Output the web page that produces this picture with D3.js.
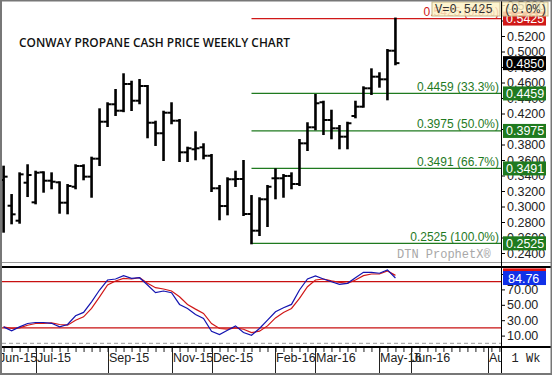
<!DOCTYPE html>
<html>
<head>
<meta charset="utf-8">
<script src="https://cdn.jsdelivr.net/npm/d3@7"></script>
<style>
  body { margin: 0; background: #fff; }
  svg { display: block; font-family: "Liberation Sans", Arial, sans-serif; }
</style>
</head>
<body>
<div id="chart"></div>
<script>
// weekly bars, Jun-2015 .. mid May-2016
var openVals  = [0.3342,0.3010,0.2817,0.3307,0.3054,0.3441,0.3333,0.3312,0.3049,0.3255,
                 0.3523,0.3385,0.3617,0.4094,0.4319,0.4236,0.4581,0.4365,0.4555,0.4081,
                 0.3945,0.4210,0.4107,0.3699,0.3738,0.3764,0.3655,0.3235,0.3006,0.3351,
                 0.3355,0.2903,0.2688,0.3093,0.3364,0.3364,0.3394,0.3290,0.3815,0.4022,
                 0.4345,0.4116,0.4009,0.3901,0.4168,0.4288,0.4525,0.4675,0.4641,0.5010];
var highVals  = [0.3514,0.3148,0.3428,0.3532,0.3449,0.3441,0.3428,0.3312,0.3277,0.3532,
                 0.3532,0.3630,0.4254,0.4332,0.4503,0.4706,0.4610,0.4632,0.4555,0.4094,
                 0.4223,0.4332,0.4116,0.3759,0.3957,0.3803,0.3665,0.3265,0.3364,0.3449,
                 0.3587,0.3135,0.3106,0.3265,0.3480,0.3406,0.3428,0.3858,0.4074,0.4439,
                 0.4352,0.4236,0.4039,0.4081,0.4352,0.4538,0.4770,0.4719,0.5019,0.5425];
var lowVals   = [0.2675,0.2783,0.2791,0.3135,0.3041,0.3191,0.3235,0.2920,0.2912,0.3235,
                 0.3351,0.3126,0.3535,0.4039,0.4181,0.4230,0.4245,0.4332,0.3893,0.3794,
                 0.3600,0.4074,0.3587,0.3587,0.3609,0.3622,0.3200,0.2835,0.2899,0.3265,
                 0.2890,0.2525,0.2632,0.2748,0.3106,0.3126,0.3235,0.3277,0.3729,0.3996,
                 0.3935,0.3880,0.3751,0.3751,0.4151,0.4288,0.4452,0.4546,0.4383,0.4835];
var closeVals = [0.3385,0.2899,0.3415,0.3406,0.3436,0.3333,0.3320,0.3049,0.3265,0.3523,
                 0.3385,0.3617,0.4094,0.4319,0.4236,0.4581,0.4365,0.4555,0.4081,0.3945,
                 0.4210,0.4107,0.3699,0.3751,0.3751,0.3655,0.3235,0.3006,0.3351,0.3355,
                 0.2903,0.2688,0.3093,0.3255,0.3364,0.3394,0.3290,0.3815,0.4022,0.4332,
                 0.4116,0.4009,0.3901,0.4074,0.4288,0.4525,0.4675,0.4641,0.5010,0.4850];

// slow stochastics
var stochK = [21.3,16.1,21.3,25.7,27.0,27.0,26.0,21.3,24.4,35.7,
              40.1,53.9,69.2,82.2,83.5,87.8,84.4,85.2,75.7,65.7,
              67.9,65.7,50.5,45.3,37.5,32.2,15.7,11.4,17.0,22.6,
              14.0,10.5,19.2,30.0,40.9,46.1,50.5,69.2,83.5,87.4,
              83.5,80.0,76.6,77.9,85.2,92.2,92.2,91.0,95.3,84.76];
var stochD = [21.3,19.2,20.0,23.5,25.7,26.0,26.5,24.4,23.5,30.0,
              34.4,45.3,60.4,75.7,80.9,84.4,83.5,85.2,77.9,72.2,
              70.5,67.9,60.4,50.5,44.4,38.8,25.7,19.2,18.3,20.0,
              18.3,14.0,15.7,22.6,33.0,40.1,45.3,58.3,73.5,82.2,
              83.5,81.0,79.1,77.9,82.2,87.8,90.0,90.0,94.0,88.2];

// fibonacci retracement of the Dec-15 low to the May-16 high
var fibLevels = [0.5425, 0.4459, 0.3975, 0.3491, 0.2525];
var fibPcts   = ["0.0", "33.3", "50.0", "66.7", "100.0"];
var fibStart  = 31;   // week of the low

var priceTicks = [0.24,0.26,0.28,0.30,0.32,0.34,0.36,0.38,0.40,0.42,0.44,0.46,0.48,0.50,0.52,0.54,0.56];
var stochTicks = [10, 30, 50, 70, 90];
var stochBands = [80, 20];

var monthLabels = ["Jun-15","Jul-15","Sep-15","Nov-15","Dec-15","Feb-16","Mar-16","May-16","Jun-16","Aug-16"];
var monthWeeks  = [-0.7, 4, 13, 21, 26, 34, 39, 47, 51, 60.6];

var width = 552, height = 375;
var plotL = 2, plotR = 501;
var mainBot = 262, stoTop = 267, stoBot = 347;

var GREEN = "#1f7a1f", RED = "#d01818", BLUE = "#1030e8";

var svg = d3.select("#chart").append("svg")
    .attr("width", width)
    .attr("height", height);

var x = d3.scaleLinear().domain([-0.2, 62.2]).range([plotL, plotR]);
var y = d3.scaleLinear().domain([0.24, 0.52]).range([253, 36]);
var ys = d3.scaleLinear().domain([0, 80]).range([343.3, 281.7]);

var defs = svg.append("defs");
function clip(id, x0, y0, w, h) {
  defs.append("clipPath").attr("id", id)
    .append("rect").attr("x", x0).attr("y", y0).attr("width", w).attr("height", h);
}
clip("cMain", plotL, 0, plotR - plotL, mainBot);
clip("cSto", plotL, stoTop, plotR - plotL, stoBot - stoTop);
clip("cDate", plotL, stoBot, plotR - plotL, height - stoBot);

// ---- main price panel ----
var main = svg.append("g").attr("clip-path", "url(#cMain)");

main.append("text")
    .attr("x", 19).attr("y", 47)
    .attr("textLength", 271).attr("lengthAdjust", "spacingAndGlyphs")
    .style("font-family", "'Open Sans', sans-serif")
    .style("font-weight", 600).style("font-size", "12px").attr("fill", "#111")
    .text("CONWAY PROPANE CASH PRICE WEEKLY CHART");

main.append("text")
    .attr("x", 397).attr("y", 258)
    .style("font-family", "'Liberation Mono', monospace").style("font-size", "12px")
    .attr("fill", "#a8a8a8")
    .text("DTN ProphetX\u00ae");

main.selectAll(".fib").data(fibLevels).enter().append("line")
    .attr("x1", x(fibStart)).attr("x2", plotR)
    .attr("y1", d => y(d)).attr("y2", d => y(d))
    .attr("stroke", (d, i) => i === 0 ? RED : GREEN)
    .attr("stroke-width", 1.2);

main.selectAll(".fibtxt").data(fibLevels).enter().append("text")
    .attr("x", 499).attr("y", d => y(d) - 2.5)
    .attr("text-anchor", "end")
    .style("font-size", "12px")
    .attr("fill", (d, i) => i === 0 ? RED : GREEN)
    .text((d, i) => d.toFixed(4) + " (" + fibPcts[i] + "%)");

var bars = main.selectAll(".bar").data(d3.range(closeVals.length)).enter().append("g")
    .attr("stroke", "#000");
bars.append("line")
    .attr("x1", i => x(i)).attr("x2", i => x(i))
    .attr("y1", i => y(highVals[i]) - 1).attr("y2", i => y(lowVals[i]) + 1)
    .attr("stroke-width", 2.6);
bars.append("line")
    .attr("x1", i => x(i) - 4).attr("x2", i => x(i))
    .attr("y1", i => y(openVals[i])).attr("y2", i => y(openVals[i]))
    .attr("stroke-width", 2);
bars.append("line")
    .attr("x1", i => x(i)).attr("x2", i => x(i) + 4)
    .attr("y1", i => y(closeVals[i])).attr("y2", i => y(closeVals[i]))
    .attr("stroke-width", 2);

// price axis
var yAxisMinor = d3.axisRight(y)
    .tickValues(d3.range(0.23, 0.57, 0.01)).tickSize(2).tickSizeOuter(0).tickFormat("");
var yAxis = d3.axisRight(y)
    .tickValues(priceTicks).tickSize(4).tickSizeOuter(0).tickFormat(d3.format(".4f"));
var gy = svg.append("g").attr("transform", "translate(" + plotR + ",0)");
gy.call(yAxisMinor);
gy.call(yAxis);
gy.selectAll("path.domain").remove();
gy.selectAll("text").attr("x", 6).style("font-size", "12.5px").style("font-family", "'Liberation Sans', Arial").attr("fill", "#222");
gy.selectAll(".tick").filter(d => y(d) < 0 || y(d) > mainBot).remove();

// value boxes on the price axis
var priceBoxes = [
  {v: fibLevels[0], c: RED},
  {v: closeVals[closeVals.length - 1], c: "#000"},
  {v: fibLevels[1], c: GREEN},
  {v: fibLevels[2], c: GREEN},
  {v: fibLevels[3], c: GREEN},
  {v: fibLevels[4], c: GREEN}
];
var pb = svg.selectAll(".pbox").data(priceBoxes).enter().append("g");
pb.append("rect")
    .attr("x", 503).attr("y", d => y(d.v) - 7).attr("width", 43).attr("height", 14)
    .attr("fill", d => d.c);
pb.append("text")
    .attr("x", 506).attr("y", d => y(d.v) + 4.5)
    .style("font-size", "12.5px").attr("fill", "#fff")
    .text(d => d.v.toFixed(4));

// cursor value readout
var lastHigh = highVals[highVals.length - 1];
var readout = svg.append("g").style("font-family", "'Liberation Mono', monospace").style("font-size", "12px");
readout.append("rect").attr("x", 432).attr("y", 2).attr("width", 68).attr("height", 14)
    .attr("fill", "#fdf2c4").attr("fill-opacity", 0.82).attr("stroke", "#c8b888");
readout.append("rect").attr("x", 502).attr("y", 2).attr("width", 46).attr("height", 14)
    .attr("fill", "#fdf2c4").attr("fill-opacity", 0.82).attr("stroke", "#c8b888");
readout.append("text").attr("x", 435).attr("y", 13).attr("fill", "#333")
    .text("V=" + lastHigh.toFixed(4));
readout.append("text").attr("x", 504).attr("y", 13).attr("fill", "#333")
    .text("(0.0%)");

// ---- stochastic panel ----
var sto = svg.append("g").attr("clip-path", "url(#cSto)");
sto.selectAll(".band").data(stochBands).enter().append("line")
    .attr("x1", plotL).attr("x2", plotR)
    .attr("y1", d => ys(d)).attr("y2", d => ys(d))
    .attr("stroke", "#c81010").attr("stroke-width", 1.2);
sto.append("line")
    .attr("x1", plotL).attr("x2", plotR).attr("y1", ys(0)).attr("y2", ys(0))
    .attr("stroke", "#999").attr("stroke-dasharray", "4,3");

var line = d3.line().x((d, i) => x(i)).y(d => ys(d));
sto.append("path").datum(stochD).attr("d", line)
    .attr("fill", "none").attr("stroke", RED).attr("stroke-width", 1.2);
sto.append("path").datum(stochK).attr("d", line)
    .attr("fill", "none").attr("stroke", "#1414b0").attr("stroke-width", 1.2);

var sAxis = d3.axisRight(ys).tickValues(stochTicks).tickSize(4).tickSizeOuter(0).tickFormat(d3.format(".2f"));
var gs = svg.append("g").attr("transform", "translate(" + plotR + ",0)").call(sAxis);
gs.selectAll("path.domain").remove();
gs.selectAll("text").attr("x", 6).style("font-size", "12.5px").style("font-family", "'Liberation Sans', Arial").attr("fill", "#222");

var stoBoxes = [
  {v: stochD[stochD.length - 1], c: "#e01010"},
  {v: stochK[stochK.length - 1], c: BLUE}
];
var sb = svg.selectAll(".sbox").data(stoBoxes).enter().append("g");
sb.append("rect")
    .attr("x", 503).attr("y", d => ys(d.v) - 7).attr("width", 43).attr("height", 14)
    .attr("fill", d => d.c);
sb.append("text")
    .attr("x", 508).attr("y", d => ys(d.v) + 4.5)
    .style("font-size", "12.5px").attr("fill", "#fff")
    .text(d => d.v.toFixed(2));

// ---- date axis ----
var dateG = svg.append("g").attr("clip-path", "url(#cDate)");
var xAxis = d3.axisBottom(x).tickValues(d3.range(0, 63)).tickSize(5).tickSizeOuter(0).tickFormat("");
var gx = dateG.append("g").attr("transform", "translate(0," + stoBot + ")").call(xAxis);
gx.selectAll("path.domain").remove();
gx.selectAll("line").attr("stroke", "#222");

dateG.selectAll(".msep").data(monthWeeks).enter().append("line")
    .attr("x1", d => Math.round(x(d)) + 0.5).attr("x2", d => Math.round(x(d)) + 0.5)
    .attr("y1", stoBot).attr("y2", height)
    .attr("stroke", "#222");
dateG.selectAll(".mlab").data(monthWeeks).enter().append("text")
    .attr("x", d => Math.round(x(d)) + 1).attr("y", 362)
    .style("font-size", "12.5px").attr("fill", "#222")
    .text((d, i) => monthLabels[i]);

svg.append("text")
    .attr("x", 526).attr("y", 362).attr("text-anchor", "middle")
    .style("font-family", "'Liberation Mono', monospace").style("font-size", "12px").attr("fill", "#222")
    .text("1 Wk");

// ---- frame and panel rules ----
svg.append("line").attr("x1", 0).attr("x2", width).attr("y1", mainBot + 0.5).attr("y2", mainBot + 0.5)
    .attr("stroke", "#999");
svg.append("line").attr("x1", 0).attr("x2", width).attr("y1", stoTop).attr("y2", stoTop)
    .attr("stroke", "#000").attr("stroke-width", 2);
svg.append("line").attr("x1", 0).attr("x2", width).attr("y1", stoBot).attr("y2", stoBot)
    .attr("stroke", "#000").attr("stroke-width", 2);
svg.append("line").attr("x1", plotR + 0.5).attr("x2", plotR + 0.5).attr("y1", 0).attr("y2", height)
    .attr("stroke", "#000");
svg.append("rect").attr("x", 1).attr("y", 0.5).attr("width", width - 1.5).attr("height", height - 1.5)
    .attr("fill", "none").attr("stroke", "#777").attr("stroke-width", 2);
</script>
</body>
</html>
